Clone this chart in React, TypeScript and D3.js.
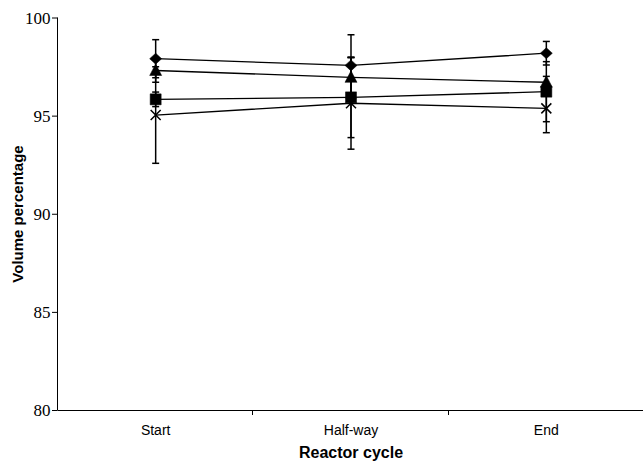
import * as d3 from 'd3';
import { useEffect, useRef } from 'react';

// categories along the x axis
const categories = ['Start', 'Half-way', 'End'];

// series values (volume percentage) and their error bars
const diamondValues = [97.9, 97.56, 98.18];
const diamondErrors = [0.97, 1.56, 0.6];
const triangleValues = [97.3, 96.95, 96.7];
const triangleErrors = [0.6, 1.0, 0.3];
const squareValues = [95.83, 95.93, 96.22];
const squareErrors = [0.37, 2.05, 1.53];
const crossValues = [95.03, 95.63, 95.37];
const crossErrors = [2.46, 2.34, 1.24];

const yTicks = [80, 85, 90, 95, 100];

const seriesList = [
    { marker: 'diamond', values: diamondValues, errors: diamondErrors },
    { marker: 'triangle', values: triangleValues, errors: triangleErrors },
    { marker: 'square', values: squareValues, errors: squareErrors },
    { marker: 'cross', values: crossValues, errors: crossErrors },
];

function markerPath(type: string) {
    if (type === 'diamond') return 'M0,-5.5L6,0L0,5.5L-6,0Z';
    if (type === 'triangle') return 'M0,-6.5L6,5L-6,5Z';
    if (type === 'square') return 'M-5.5,-5.5H5.5V5.5H-5.5Z';
    return 'M-5,-5L5,5M-5,5L5,-5';
}

export default function App() {
    const ref = useRef<SVGSVGElement>(null);

    const width = 643, height = 461;
    const left = 58, right = 644, top = 17.5, bottom = 410;

    useEffect(() => {
        drawChart();
    }, []);

    function drawChart() {
        const svg = d3.select(ref.current);
        svg.selectAll('*').remove();

        const x = d3.scaleBand().domain(categories).range([left, right]).padding(0);
        const y = d3.scaleLinear().domain([80, 100]).range([bottom, top]);
        const cx = (c: string) => (x(c) as number) + x.bandwidth() / 2;

        // axes
        svg.append('line')
            .attr('x1', left - 0.5).attr('x2', left - 0.5)
            .attr('y1', y(100)).attr('y2', y(80))
            .attr('stroke', '#000');
        svg.append('line')
            .attr('x1', left - 0.5).attr('x2', width)
            .attr('y1', y(80) + 0.5).attr('y2', y(80) + 0.5)
            .attr('stroke', '#000');

        svg.selectAll('.ytick')
            .data(yTicks)
            .enter()
            .append('line')
            .attr('x1', left - 6).attr('x2', left - 0.5)
            .attr('y1', d => y(d) + 0.5).attr('y2', d => y(d) + 0.5)
            .attr('stroke', '#000');
        svg.selectAll('.ylabel')
            .data(yTicks)
            .enter()
            .append('text')
            .attr('x', left - 7.5)
            .attr('y', d => y(d) + 6)
            .attr('text-anchor', 'end')
            .style('font-family', '"Liberation Serif", serif')
            .style('font-size', '17px')
            .text(d => d);

        // x ticks at category boundaries
        const bounds = categories.map(c => x(c) as number).concat([right]);
        svg.selectAll('.xtick')
            .data(bounds.slice(1, 3))
            .enter()
            .append('line')
            .attr('x1', d => Math.round(d) - 0.5).attr('x2', d => Math.round(d) - 0.5)
            .attr('y1', y(80)).attr('y2', y(80) + 5)
            .attr('stroke', '#000');
        svg.selectAll('.xlabel')
            .data(categories)
            .enter()
            .append('text')
            .attr('x', d => cx(d))
            .attr('y', 435)
            .attr('text-anchor', 'middle')
            .style('font-family', '"Liberation Sans", Arial, sans-serif')
            .style('font-size', '14px')
            .text(d => d);

        // axis titles
        svg.append('text')
            .attr('x', 351)
            .attr('y', 458)
            .attr('text-anchor', 'middle')
            .style('font-family', '"Liberation Sans", Arial, sans-serif')
            .style('font-size', '16px')
            .style('font-weight', 'bold')
            .text('Reactor cycle');
        svg.append('text')
            .attr('transform', 'translate(23,214)rotate(-90)')
            .attr('text-anchor', 'middle')
            .style('font-family', '"Liberation Sans", Arial, sans-serif')
            .style('font-size', '15px')
            .style('font-weight', 'bold')
            .text('Volume percentage');

        const line = d3.line<number>()
            .x((d, i) => cx(categories[i]))
            .y(d => y(d));

        // series lines
        seriesList.forEach(s => {
            svg.append('path')
                .attr('d', line(s.values))
                .attr('fill', 'none')
                .attr('stroke', '#000')
                .attr('stroke-width', 1.3);
        });

        // error bars
        seriesList.forEach(s => {
            s.values.forEach((v, i) => {
                const px = cx(categories[i]);
                const hi = y(v + s.errors[i]);
                const lo = y(v - s.errors[i]);
                const g = svg.append('g').attr('stroke', '#000').attr('stroke-width', 1.5);
                g.append('line').attr('x1', px).attr('x2', px).attr('y1', hi).attr('y2', lo);
                g.append('line').attr('x1', px - 3.5).attr('x2', px + 3.5).attr('y1', hi).attr('y2', hi);
                g.append('line').attr('x1', px - 3.5).attr('x2', px + 3.5).attr('y1', lo).attr('y2', lo);
            });
        });

        // markers
        seriesList.forEach(s => {
            svg.selectAll('.m-' + s.marker)
                .data(s.values)
                .enter()
                .append('path')
                .attr('transform', (d, i) => 'translate(' + cx(categories[i]) + ',' + y(d) + ')')
                .attr('d', markerPath(s.marker))
                .attr('fill', s.marker === 'cross' ? 'none' : '#000')
                .attr('stroke', '#000')
                .attr('stroke-width', s.marker === 'cross' ? 1.5 : 0.5);
        });
    }

    return (
        <svg
            ref={ref}
            width={width}
            height={height}
            style={{ position: 'absolute', left: 0, top: 0, background: '#fff' }}
        />
    );
}
